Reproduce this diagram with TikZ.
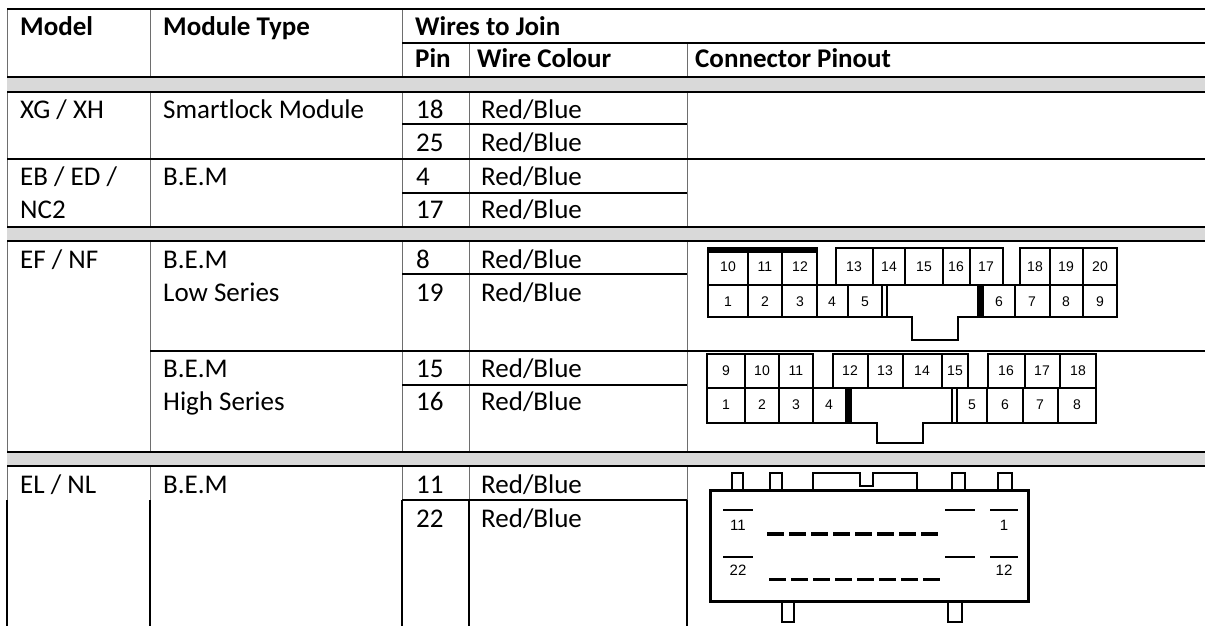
\documentclass[tikz,border=0pt]{standalone}
\usepackage{fontspec}
\setmainfont{Carlito}
\newfontfamily\plugfont{Liberation Sans}
\usetikzlibrary{positioning}

\begin{document}
\begin{tikzpicture}[x=1pt,y=-1pt,
    hline/.style={line width=2.2pt},
    vline/.style={line width=1pt, color=rulegray},
    vlinefat/.style={line width=2pt},
    headtext/.style={anchor=base west, inner sep=0pt, font=\fontsize{27}{32}\selectfont\bfseries},
    celltext/.style={anchor=base west, inner sep=0pt, font=\fontsize{27}{32}\selectfont},
    pinno/.style={inner sep=0pt, font=\plugfont\fontsize{14}{14}\selectfont},
    plug/.style={line width=1.9pt},
    plugrim/.style={line width=2.8pt, line join=miter}]
    \definecolor{rulegray}{HTML}{6E6E6E}
    \definecolor{band}{HTML}{D9D9D9}
    \useasboundingbox (0,0) rectangle (1205,626);
    \fill[white] (0,0) rectangle (1205,626);
    % Gitter
    \foreach \xv in {7,150,402} \draw[vline] (\xv,9) -- (\xv,500);  %Spalten oben
    \foreach \xv in {469,687} \draw[vline] (\xv,43) -- (\xv,500);
    \foreach \xv in {7,150,402,469,687} \draw[vlinefat] (\xv,500) -- (\xv,626);  %Spalten unten
    \foreach \ya/\yb in {77/92,227/241,452/466} \fill[band] (7,\ya) rectangle (1205,\yb);  %graue Streifen
    \foreach \yh in {9,77,92,159,227,241,452,466} \draw[hline] (7,\yh) -- (1205,\yh);
    \draw[hline] (402,43) -- (1205,43);  %unter Wires to Join
    \draw[hline] (150,351) -- (1205,351);  %Low / High
    \foreach \yh in {124,193,274,385,500} \draw[hline] (402,\yh) -- (687,\yh);  %Pin-Zeilen
    % Kopf
    \node[headtext] (model) at (20,36) {Model};
    \node[headtext] (modtype) at (163,36) {Module Type};
    \node[headtext] (wires) at (415,36) {Wires to Join};
    \node[headtext] (pin) at (415,68) {Pin};
    \node[headtext] (colour) at (477,68) {Wire Colour};
    \node[headtext] (pinout) at (695,68) {Connector Pinout};
    % Zeilen
    \node[celltext] (xg) at (20,118) {XG / XH};
    \node[celltext] (smart) at (163,118) {Smartlock Module};
    \node[celltext] (eb) at (20,185) {EB / ED /};
    \node[celltext] (nc) at (20,218) {NC2};
    \node[celltext] (bemeb) at (163,185) {B.E.M};
    \node[celltext] (ef) at (20,268) {EF / NF};
    \node[celltext] (bemlow) at (163,268) {B.E.M};
    \node[celltext] (low) at (163,301) {Low Series};
    \node[celltext] (bemhigh) at (163,377) {B.E.M};
    \node[celltext] (high) at (163,410) {High Series};
    \node[celltext] (el) at (20,493) {EL / NL};
    \node[celltext] (bemel) at (163,493) {B.E.M};
    \foreach \yb/\pinnr in {118/18,151/25,185/4,218/17,268/8,301/19,377/15,410/16,493/11,527/22}
      {
        \node[celltext] (pin\pinnr) at (416,\yb) {\pinnr};  %Pin
        \node[celltext] (col\pinnr) at (481,\yb) {Red/Blue};  %Farbe
      }
    % Stecker Low Series
    \draw[plugrim] (708,248) -- (817,248) -- (817,285) -- (836,285) -- (836,248) -- (1003,248) -- (1003,285) -- (1020,285) -- (1020,248) -- (1117,248) -- (1117,317) -- (958,317) -- (958,340) -- (912,340) -- (912,317) -- (708,317) -- cycle;
    \fill (708,247) rectangle (817,253);
    \draw[plug] (708,285) -- (1117,285);
    \foreach \xv in {748,782,873,905,943,970,1050,1083} \draw[plug] (\xv,248) -- (\xv,285);
    \foreach \xv in {748,782,817,848,882,887,1015,1050,1083} \draw[plug] (\xv,285) -- (\xv,317);
    \fill (977,285) rectangle (984,317);
    \foreach \xc/\nr in {728/10,765/11,800/12,854/13,889/14,924/15,956/16,986/17,1035/18,1066/19,1100/20}
      \node[pinno] (lot\nr) at (\xc,267) {\nr};
    \foreach \xc/\nr in {728/1,765/2,800/3,832/4,865/5,999/6,1032/7,1066/8,1100/9}
      \node[pinno] (lob\nr) at (\xc,302) {\nr};
    % Stecker High Series
    \draw[plugrim] (707,354) -- (813,354) -- (813,388) -- (833,388) -- (833,354) -- (968,354) -- (968,388) -- (988,388) -- (988,354) -- (1096,354) -- (1096,423) -- (923,423) -- (923,443) -- (877,443) -- (877,423) -- (707,423) -- cycle;
    \draw[plug] (707,388) -- (1096,388);
    \foreach \xv in {745,779,868,903,942,1025,1060} \draw[plug] (\xv,354) -- (\xv,388);
    \foreach \xv in {745,779,813,952,957,987,1023,1058} \draw[plug] (\xv,388) -- (\xv,423);
    \fill (845,388) rectangle (852,423);
    \foreach \xc/\nr in {726/9,762/10,796/11,850/12,885/13,922/14,955/15,1006/16,1042/17,1078/18}
      \node[pinno] (hit\nr) at (\xc,371) {\nr};
    \foreach \xc/\nr in {726/1,762/2,796/3,829/4,972/5,1005/6,1040/7,1077/8}
      \node[pinno] (hib\nr) at (\xc,405) {\nr};
    % Stecker EL / NL
    \draw[line width=3pt] (710,490) rectangle (1028,601);
    \foreach \xa/\xb in {732/743,770/782,952/965,998/1012} \draw[plugrim] (\xa,490) -- (\xa,473) -- (\xb,473) -- (\xb,490);  %Nasen oben
    \draw[plugrim] (813,490) -- (813,473) -- (860,473) -- (860,486) -- (873,486) -- (873,473) -- (917,473) -- (917,490);
    \foreach \xa/\xb in {782/794,948/962} \draw[plugrim] (\xa,601) -- (\xa,622) -- (\xb,622) -- (\xb,601);  %Nasen unten
    \foreach \xa/\xb/\yh in {723/753/510,723/753/557,990/1018/510,990/1018/557,945/975/510,945/975/557}
      \draw[line width=2pt] (\xa,\yh) -- (\xb,\yh);
    \draw[line width=4.5pt, dash pattern=on 17pt off 5pt] (767,534) -- (942,534);
    \draw[line width=3pt, dash pattern=on 17pt off 5pt] (769,579) -- (942,579);
    \node[pinno, font=\plugfont\fontsize{15}{15}\selectfont] (el11) at (738,525) {11};
    \node[pinno, font=\plugfont\fontsize{15}{15}\selectfont] (el22) at (738,570) {22};
    \node[pinno, font=\plugfont\fontsize{15}{15}\selectfont] (el1) at (1004,525) {1};
    \node[pinno, font=\plugfont\fontsize{15}{15}\selectfont] (el12) at (1004,570) {12};
\end{tikzpicture}
\end{document}
